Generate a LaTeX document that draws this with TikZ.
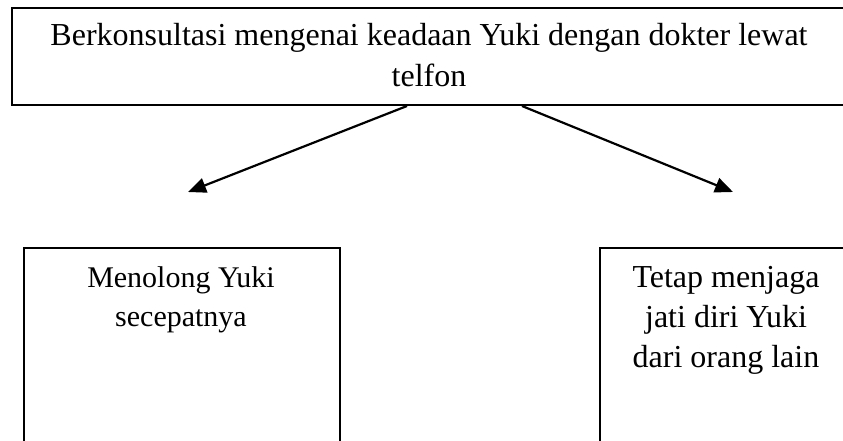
\documentclass[tikz,border=0pt]{standalone}
\usepackage{fontspec}
\setmainfont{Liberation Serif}
\usetikzlibrary{arrows.meta,calc}
\tikzset{
  topbox/.style={draw=black, line width=2pt, rectangle, anchor=north west, inner sep=0pt},
  lowbox/.style={draw=black, line width=1.5pt, rectangle, anchor=north west, inner sep=0pt},
  txt/.style={anchor=base, inner sep=0pt, font=\fontsize{32}{41}\selectfont},
  txtsmall/.style={anchor=base, inner sep=0pt, font=\fontsize{30}{41}\selectfont},
  conn/.style={line width=2.2pt, -{Triangle[length=18pt,width=15pt]}}
}
\begin{document}
\begin{tikzpicture}[x=1pt,y=-1pt]
\useasboundingbox (0,0) rectangle (843,441);
\clip (0,0) rectangle (843,441);
\fill[white] (0,0) rectangle (843,441);
% top box
\node[topbox, minimum width=840pt, minimum height=97pt] (top) at (11,7) {};
\node[txt] (t1) at (429,46) {Berkonsultasi mengenai keadaan Yuki dengan dokter lewat};
\node[txt] (t2) at (429,87) {telfon};
% lower boxes
\node[lowbox, minimum width=316pt, minimum height=230pt] (left) at (23,247) {};
\node[txtsmall] (l1) at (181,287) {Menolong Yuki};
\node[txtsmall] (l2) at (181,326) {secepatnya};
\node[lowbox, minimum width=255pt, minimum height=230pt] (right) at (599,247) {};
\node[txt] (r1) at (726,287) {Tetap menjaga};
\node[txt] (r2) at (726,327) {jati diri Yuki};
\node[txt] (r3) at (726,367) {dari orang lain};
% arrow ends
\coordinate (s1) at ($(top.south west)+(396,0)$);
\coordinate (s2) at ($(top.south west)+(511,0)$);
\coordinate (e1) at (188,192);
\coordinate (e2) at (733,192);
\draw[conn] (s1) -- (e1);
\draw[conn] (s2) -- (e2);
\end{tikzpicture}
\end{document}
